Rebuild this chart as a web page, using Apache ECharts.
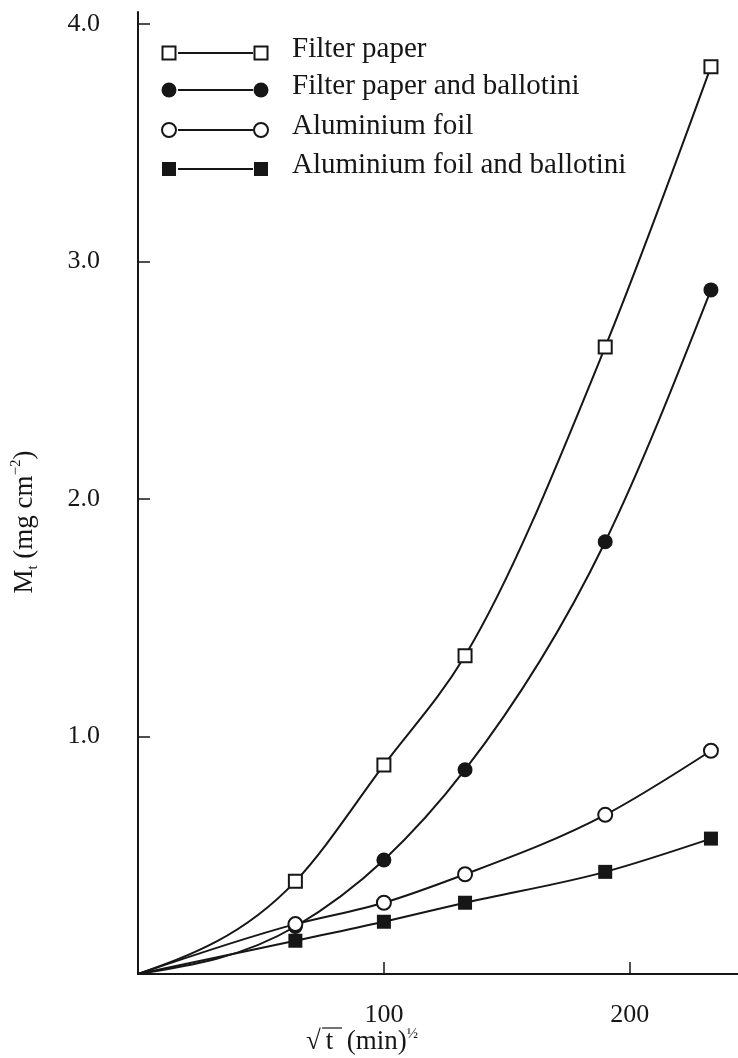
<!DOCTYPE html>
<html><head><meta charset="utf-8">
<script src="https://cdn.jsdelivr.net/npm/echarts@6/dist/echarts.min.js"></script>
<style>html,body{margin:0;padding:0;background:#fff}#c{width:738px;height:1058px}</style>
</head><body><div id="c"></div>
<script>
// ---- data ----
const sqrtT = [0, 64, 100, 133, 190, 233];
const filterPaper = [0, 0.39, 0.88, 1.34, 2.64, 3.82];
const filterPaperBallotini = [0, 0.20, 0.48, 0.86, 1.82, 2.88];
const aluminiumFoil = [0, 0.21, 0.30, 0.42, 0.67, 0.94];
const aluminiumFoilBallotini = [0, 0.14, 0.22, 0.30, 0.43, 0.57];
const seriesNames = ['Filter paper', 'Filter paper and ballotini', 'Aluminium foil', 'Aluminium foil and ballotini'];
const xTickValues = [100, 200];
const yTickValues = [1, 2, 3, 4];

// ---- styles ----
const INK = '#161616';
const FONT = '"Liberation Serif", "DejaVu Serif", serif';
const markers = [
  {symbol: 'rect', size: 13, fill: '#fff', border: 2},
  {symbol: 'circle', size: 15, fill: INK, border: 0},
  {symbol: 'circle', size: 14, fill: '#fff', border: 2},
  {symbol: 'rect', size: 14, fill: INK, border: 0}
];
const allValues = [filterPaper, filterPaperBallotini, aluminiumFoil, aluminiumFoilBallotini];

// smooth curve (cubic Hermite in data space, mapped through the axes)
function curvePath(xs, ys, api) {
  const n = xs.length, h = [], d = [], m = [];
  for (let i = 0; i < n - 1; i++) { h[i] = xs[i + 1] - xs[i]; d[i] = (ys[i + 1] - ys[i]) / h[i]; }
  for (let i = 1; i < n - 1; i++) m[i] = (h[i - 1] * d[i] + h[i] * d[i - 1]) / (h[i - 1] + h[i]);
  m[0] = Math.max(0, (3 * d[0] - m[1]) / 2);
  m[n - 1] = (3 * d[n - 2] - m[n - 2]) / 2;
  const p0 = api.coord([xs[0], ys[0]]);
  let path = 'M' + p0[0] + ' ' + p0[1];
  for (let i = 0; i < n - 1; i++) {
    const c1 = api.coord([xs[i] + h[i] / 3, ys[i] + m[i] * h[i] / 3]);
    const c2 = api.coord([xs[i + 1] - h[i] / 3, ys[i + 1] - m[i + 1] * h[i] / 3]);
    const e = api.coord([xs[i + 1], ys[i + 1]]);
    path += ' C' + c1[0] + ' ' + c1[1] + ' ' + c2[0] + ' ' + c2[1] + ' ' + e[0] + ' ' + e[1];
  }
  return path;
}

const series = [];
allValues.forEach((vals, i) => {
  series.push({
    name: seriesNames[i] + ' curve',
    type: 'custom',
    z: 2,
    clip: false,
    silent: true,
    animation: false,
    encode: {x: 0, y: 1},
    data: vals.map((v, j) => [sqrtT[j], v]),
    renderItem: (params, api) => {
      if (params.dataIndex !== 0) return null;
      return {type: 'path', shape: {pathData: curvePath(sqrtT, vals, api)},
        style: {fill: 'none', stroke: INK, lineWidth: 2}};
    }
  });
  series.push({
    name: seriesNames[i],
    type: 'scatter',
    symbol: markers[i].symbol,
    symbolSize: markers[i].size,
    z: 5 + i,
    itemStyle: {color: markers[i].fill, borderColor: INK, borderWidth: markers[i].border, opacity: 1},
    emphasis: {disabled: true},
    animation: false,
    data: vals.map((v, j) => [sqrtT[j], v]).slice(1)
  });
});

// legend drawn as graphic (symbol — line — symbol, text)
const legendRows = [53, 90, 130, 169];
const graphics = [];
seriesNames.forEach((name, i) => {
  const y = legendRows[i];
  const m = markers[i];
  graphics.push({type: 'line', shape: {x1: 178, y1: y, x2: 253, y2: y}, style: {stroke: INK, lineWidth: 2}, z: 10});
  [169, 261].forEach(cx => {
    if (m.symbol === 'rect') {
      const s = m.size;
      graphics.push({type: 'rect', shape: {x: cx - s / 2, y: y - s / 2, width: s, height: s},
        style: {fill: m.fill, stroke: m.border ? INK : null, lineWidth: m.border}, z: 11});
    } else {
      graphics.push({type: 'circle', shape: {cx: cx, cy: y, r: m.size / 2},
        style: {fill: m.fill, stroke: m.border ? INK : null, lineWidth: m.border}, z: 11});
    }
  });
  graphics.push({type: 'text', x: 292, y: y - 4, z: 11,
    style: {text: name, fill: INK, fontSize: 29, fontFamily: FONT, verticalAlign: 'middle', align: 'left'}});
});
// axis titles
graphics.push({type: 'text', x: 25, y: 522, rotation: Math.PI / 2, z: 11,
  style: {
    text: '{m|M}{sub|t}{m| (mg cm}{sup|−2}{m|)}',
    align: 'center', verticalAlign: 'middle', fill: INK,
    rich: {
      m: {fontSize: 27, fontFamily: FONT, lineHeight: 32, fill: INK},
      sub: {fontSize: 15, fontFamily: FONT, lineHeight: 16, verticalAlign: 'bottom', fill: INK},
      sup: {fontSize: 15, fontFamily: FONT, lineHeight: 16, verticalAlign: 'top', fill: INK}
    }
  }});
graphics.push({type: 'text', x: 362, y: 1042, z: 11,
  style: {
    text: '{m|√}{t|t}{m|  (min)}{sup|½}',
    align: 'center', verticalAlign: 'middle', fill: INK,
    rich: {
      m: {fontSize: 27, fontFamily: FONT, lineHeight: 30, fill: INK},
      t: {fontSize: 27, fontFamily: FONT, lineHeight: 30, fill: INK, padding: [0, 0, 0, 5]},
      sup: {fontSize: 15, fontFamily: FONT, lineHeight: 16, verticalAlign: 'top', fill: INK}
    }
  }});
// overbar of the radical sign
graphics.push({type: 'line', shape: {x1: 322, y1: 1028, x2: 342, y2: 1028}, style: {stroke: INK, lineWidth: 1.2}, z: 11});

const option = {
  backgroundColor: '#fff',
  animation: false,
  grid: {left: 138, right: 0, top: 12, bottom: 84, containLabel: false, outerBoundsMode: 'none'},
  xAxis: {
    type: 'value', min: 0, max: 244, interval: 100,
    splitLine: {show: false},
    axisLine: {show: true, onZero: false, lineStyle: {color: INK, width: 2}},
    axisTick: {show: true, inside: true, length: 12, customValues: xTickValues, lineStyle: {color: INK, width: 1.5}},
    axisLabel: {customValues: xTickValues, color: INK, fontSize: 26, fontFamily: FONT, margin: 28,
      formatter: v => (xTickValues.includes(v) ? String(v) : '')}
  },
  yAxis: {
    type: 'value', min: 0, max: 4.05, interval: 1,
    splitLine: {show: false},
    axisLine: {show: true, onZero: false, lineStyle: {color: INK, width: 2}},
    axisTick: {show: true, inside: true, length: 12, customValues: yTickValues, lineStyle: {color: INK, width: 1.5}},
    axisLabel: {customValues: yTickValues, color: INK, fontSize: 26, fontFamily: FONT, margin: 38,
      formatter: v => (yTickValues.includes(v) ? v.toFixed(1) : '')}
  },
  graphic: graphics,
  series: series
};
const chart = echarts.init(document.getElementById('c'), null, {renderer: 'canvas'});
chart.setOption(option);
</script>
</body></html>
